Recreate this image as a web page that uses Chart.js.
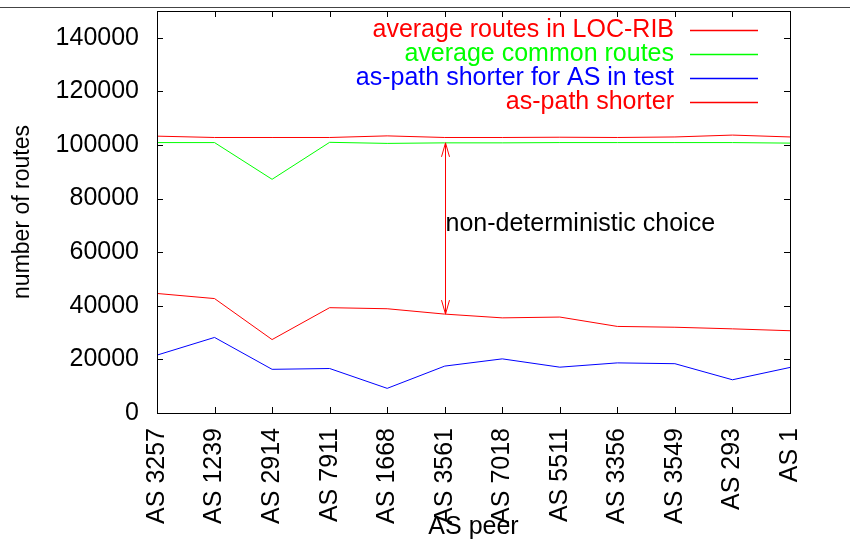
<!DOCTYPE html>
<html>
<head>
<meta charset="utf-8">
<script src="https://cdn.jsdelivr.net/npm/chart.js@4.4.1/dist/chart.umd.min.js"></script>
<style>
  html, body { margin: 0; padding: 0; background: #fff; }
  #wrap { width: 850px; height: 540px; }
</style>
</head>
<body>
<div id="wrap"><canvas id="chart" width="850" height="540"></canvas></div>
<script>
// ── Données ───────────────────────────────────────────────
const peers = ['AS 3257', 'AS 1239', 'AS 2914', 'AS 7911', 'AS 1668', 'AS 3561',
               'AS 7018', 'AS 5511', 'AS 3356', 'AS 3549', 'AS 293', 'AS 1'];

const locRib     = [103300, 102800, 102800, 102800, 103400, 102800, 102800, 102900, 102800, 103000, 103700, 103000];
const common     = [100900, 100900, 87200, 101000, 100600, 100800, 100800, 100900, 100900, 100900, 100900, 100700];
const shorterAs  = [21600, 28200, 16300, 16600, 9200, 17500, 20200, 17100, 18700, 18400, 12400, 17000];
const shorter    = [44600, 42700, 27400, 39300, 38900, 36900, 35500, 35800, 32300, 32000, 31400, 30700];

const yTicks     = [0, 20000, 40000, 60000, 80000, 100000, 120000, 140000];
const yMax       = 150000;

const noteIndex  = 5;       // AS 3561
const noteValue  = 70500;
const noteText   = 'non-deterministic choice';

const FONT = '"Liberation Sans", Arial, Helvetica, sans-serif';
const FSIZE = 25;

// ── Plugin : cadre, graduations internes, légende, flèche ──
const gnuplotDecor = {
    id: 'gnuplotDecor',
    afterDatasetsDraw(chart) {
        const { ctx, chartArea: a, scales: { x, y } } = chart;
        ctx.save();

        // ligne du haut de page
        ctx.strokeStyle = '#444';
        ctx.lineWidth = 1;
        ctx.beginPath();
        ctx.moveTo(0, 7.5); ctx.lineTo(850, 7.5);
        ctx.stroke();

        // cadre
        ctx.strokeStyle = '#000';
        ctx.strokeRect(Math.round(a.left) + 0.5, Math.round(a.top) + 0.5,
                       Math.round(a.right - a.left), Math.round(a.bottom - a.top));

        // graduations vers l'intérieur
        const tk = 6;
        ctx.beginPath();
        y.ticks.forEach(t => {
            const py = Math.round(y.getPixelForValue(t.value)) + 0.5;
            ctx.moveTo(a.left, py);  ctx.lineTo(a.left + tk, py);
            ctx.moveTo(a.right, py); ctx.lineTo(a.right - tk, py);
        });
        x.ticks.forEach((t, i) => {
            const px = Math.round(x.getPixelForTick(i)) + 0.5;
            ctx.moveTo(px, a.bottom); ctx.lineTo(px, a.bottom - tk);
            ctx.moveTo(px, a.top);    ctx.lineTo(px, a.top + tk);
        });
        ctx.stroke();

        // flèche double
        const ax = Math.round(x.getPixelForValue(noteIndex)) + 0.5;
        const y1 = y.getPixelForValue(common[noteIndex]);
        const y2 = y.getPixelForValue(shorter[noteIndex]);
        ctx.strokeStyle = '#ff0000';
        ctx.beginPath();
        ctx.moveTo(ax, y1); ctx.lineTo(ax, y2);
        ctx.moveTo(ax - 4, y1 + 14); ctx.lineTo(ax, y1); ctx.lineTo(ax + 4, y1 + 14);
        ctx.moveTo(ax - 4, y2 - 14); ctx.lineTo(ax, y2); ctx.lineTo(ax + 4, y2 - 14);
        ctx.stroke();

        // texte annotation
        ctx.fillStyle = '#000';
        ctx.font = FSIZE + 'px ' + FONT;
        ctx.textAlign = 'left';
        ctx.textBaseline = 'middle';
        ctx.fillText(noteText, ax, y.getPixelForValue(noteValue));

        // légende
        const lineR = a.right - 32, lineL = lineR - 68, textR = lineL - 16;
        chart.data.datasets.forEach((ds, i) => {
            const ry = a.top + 19 + i * 24;
            ctx.fillStyle = ds.borderColor;
            ctx.textAlign = 'right';
            ctx.fillText(ds.label, textR, ry);
            ctx.strokeStyle = ds.borderColor;
            ctx.lineWidth = 1.4;
            ctx.beginPath();
            ctx.moveTo(lineL, Math.round(ry) + 0.5);
            ctx.lineTo(lineR, Math.round(ry) + 0.5);
            ctx.stroke();
        });

        ctx.restore();
    }
};

// ── Graphique ─────────────────────────────────────────────
const mkSet = (label, data, color) => ({
    label, data,
    borderColor: color,
    backgroundColor: color,
    borderWidth: 1,
    pointRadius: 0,
    tension: 0,
    fill: false,
});

new Chart(document.getElementById('chart'), {
    type: 'line',
    data: {
        labels: peers,
        datasets: [
            mkSet('average routes in LOC-RIB', locRib, '#ff0000'),
            mkSet('average common routes', common, '#00ff00'),
            mkSet('as-path shorter for AS in test', shorterAs, '#0000ff'),
            mkSet('as-path shorter', shorter, '#ff0000'),
        ],
    },
    options: {
        responsive: false,
        animation: false,
        layout: { padding: { top: 11, right: 60, left: 0, bottom: 0 } },
        plugins: { legend: { display: false }, tooltip: { enabled: false } },
        scales: {
            x: {
                offset: false,
                grid: { display: false, drawTicks: false },
                border: { display: false },
                ticks: {
                    autoSkip: false, minRotation: 90, maxRotation: 90,
                    padding: 15, color: '#000',
                    font: { family: FONT, size: FSIZE },
                },
                title: {
                    display: true, text: 'AS peer', color: '#000',
                    font: { family: FONT, size: FSIZE },
                    padding: { top: 0, bottom: -2 },
                },
                afterFit: s => { s.height = 127; s.paddingLeft = 0; s.paddingRight = 0; },
            },
            y: {
                min: 0, max: yMax,
                grid: { display: false, drawTicks: false },
                border: { display: false },
                afterBuildTicks: s => { s.ticks = yTicks.map(v => ({ value: v })); },
                ticks: {
                    padding: 18, color: '#000',
                    font: { family: FONT, size: FSIZE },
                    callback: v => String(v),
                },
                title: {
                    display: true, text: 'number of routes', color: '#000',
                    font: { family: FONT, size: 23 },
                    padding: { top: 9, bottom: 0 },
                },
                afterFit: s => { s.width = 157; s.paddingTop = 0; s.paddingBottom = 0; },
            },
        },
    },
    plugins: [gnuplotDecor],
});
</script>
</body>
</html>
